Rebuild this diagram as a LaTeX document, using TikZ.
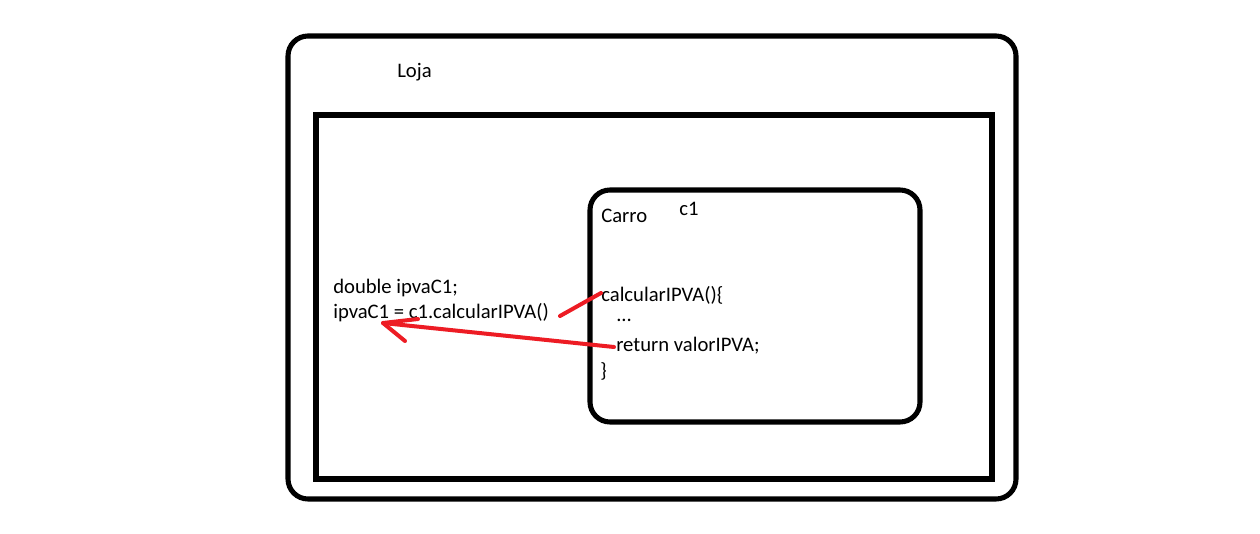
\documentclass[tikz,border=0pt]{standalone}
\usepackage{fontspec}
\setmainfont{Carlito}
\begin{document}
\begin{tikzpicture}[x=0.75pt,y=-0.75pt,
  box/.style={draw=black,line width=3.8pt},
  lbl/.style={inner sep=0pt,anchor=west,font=\fontsize{15.5pt}{18pt}\selectfont},
  redline/.style={draw={rgb,255:red,237;green,28;blue,36},line width=3pt,line cap=round,line join=round}]
\useasboundingbox[fill=white] (0,0) rectangle (1260,534);
\draw[box,rounded corners=15pt] (288,36) rectangle (1016,499);
\draw[box] (316,115) rectangle (992,479);
\draw[box,rounded corners=15pt] (590,190) rectangle (920,422);
\node[lbl] (loja) at (397,72) {Loja};
\node[lbl] (carro) at (601,216) {Carro};
\node[lbl] (c1) at (679,209) {c1};
\node[lbl] (decl) at (333,288) {double ipvaC1;};
\node[lbl] (call) at (333,313) {ipvaC1 = c1.calcularIPVA()};
\node[lbl] (meth) at (601,295) {calcularIPVA()\{};
\node[lbl] (dots) at (616,320) {...};
\node[lbl] (ret) at (616,346) {return valorIPVA;};
\node[lbl] (close) at (600,371) {\}};
\coordinate (a1) at (560,316);
\coordinate (a2) at (601,293);
\coordinate (tip) at (383,323);
\coordinate (rs) at (614,347);
\coordinate (b1) at (418,319);
\coordinate (b2) at (405,341);
\draw[redline] (a1) -- (a2);
\draw[redline] (rs) -- (tip);
\draw[redline] (b1) -- (tip) -- (b2);
\end{tikzpicture}
\end{document}
